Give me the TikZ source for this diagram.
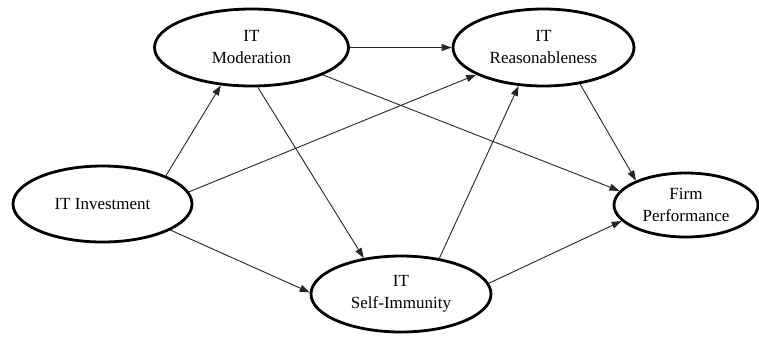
\documentclass[tikz,border=0pt]{standalone}
\usepackage{fontspec}
\setmainfont{Liberation Serif}
\usetikzlibrary{shapes.geometric,arrows.meta}
\begin{document}
\begin{tikzpicture}[x=1pt,y=-1pt,
  construct/.style={ellipse, draw=black, line width=2.8pt, inner sep=0pt,
    align=center, font=\fontsize{17}{22}\selectfont},
  path link/.style={draw=black!85, line width=0.9pt,
    -{Triangle[length=10pt,width=7pt]}}]
  \useasboundingbox[fill=white] (0,0) rectangle (759,338);

  % constructs
  \node[construct, minimum width=194pt, minimum height=77pt] (mod)  at (251.5,47.5) {IT\\Moderation};
  \node[construct, minimum width=181pt, minimum height=77pt] (reas) at (543.5,47.5) {IT\\Reasonableness};
  \node[construct, minimum width=179pt, minimum height=76pt] (inv)  at (102.5,204)  {IT Investment};
  \node[construct, minimum width=180pt, minimum height=76pt] (self) at (401,294)    {IT\\Self-Immunity};
  \node[construct, minimum width=144pt, minimum height=64pt] (firm) at (686,205)    {Firm\\Performance};

  % hypothesised paths
  \draw[path link] (inv.24)    -- (mod.-129);
  \draw[path link] (inv.8.7)   -- (reas.202.6);
  \draw[path link] (inv.-21.8) -- (self.179);
  \draw[path link] (mod.0)     -- (reas.180);
  \draw[path link] (mod.-81)   -- (self.136.5);
  \draw[path link] (mod.-21.7) -- (firm.168.8);
  \draw[path link] (self.43.5) -- (reas.237.8);
  \draw[path link] (reas.-45.7) -- (firm.154);
  \draw[path link] (self.7.5)  -- (firm.194.6);
\end{tikzpicture}
\end{document}
